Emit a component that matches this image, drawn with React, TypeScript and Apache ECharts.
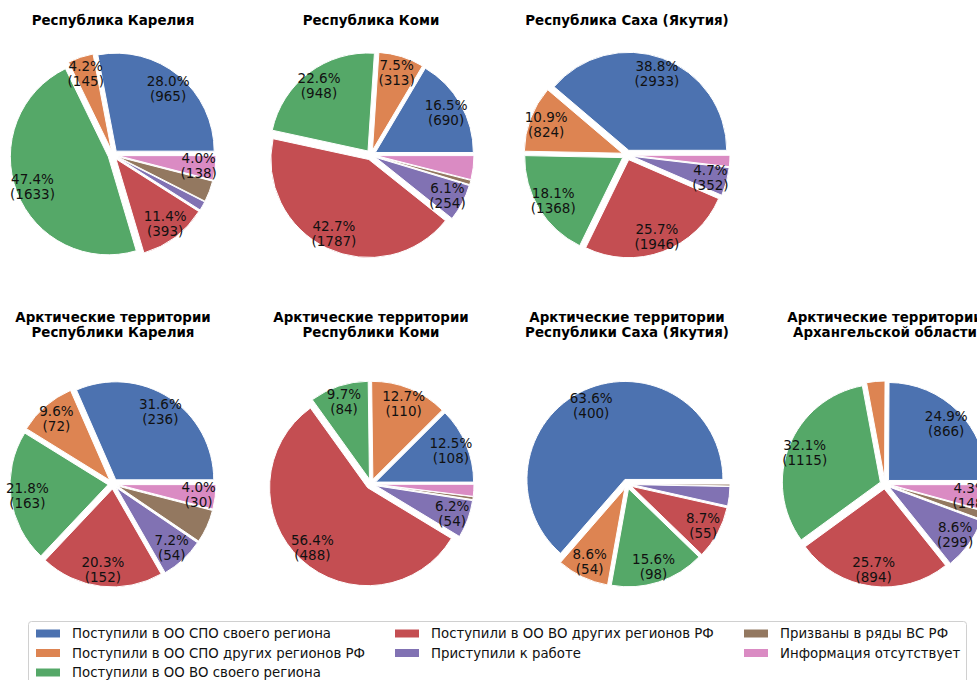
import React, { useEffect, useRef } from "react";
import * as echarts from "echarts";

const categories = [
  "Поступили в ОО СПО своего региона",
  "Поступили в ОО СПО других регионов РФ",
  "Поступили в ОО ВО своего региона",
  "Поступили в ОО ВО других регионов РФ",
  "Приступили к работе",
  "Призваны в ряды ВС РФ",
  "Информация отсутствует",
];

const colors = ["#4C72B0", "#DD8452", "#55A868", "#C44E52", "#8172B3", "#937860", "#DA8BC3"];

const titles = [
  "Республика Карелия",
  "Республика Коми",
  "Республика Саха (Якутия)",
  "Арктические территории\nРеспублики Карелия",
  "Арктические территории\nРеспублики Коми",
  "Арктические территории\nРеспублики Саха (Якутия)",
  "Арктические территории\nАрхангельской области",
];

const karelia = [965, 145, 1633, 393, 52, 120, 138];
const komi = [690, 313, 948, 1787, 254, 30, 165];
const yakutia = [2933, 824, 1368, 1946, 352, 0, 140];
const arcticKarelia = [236, 72, 163, 152, 54, 41, 30];
const arcticKomi = [108, 110, 84, 488, 54, 4, 17];
const arcticYakutia = [400, 54, 98, 55, 20, 2, 0];
const arkhangelsk = [866, 105, 1115, 894, 299, 48, 148];

const pieValues = [karelia, komi, yakutia, arcticKarelia, arcticKomi, arcticYakutia, arkhangelsk];

// legend layout: column, row for each category
const legendColumn = [0, 0, 0, 1, 1, 2, 2];
const legendRow = [0, 1, 2, 0, 1, 0, 1];

export default function App() {
  const ref = useRef<HTMLDivElement>(null);
  useEffect(() => {
    document.body.style.margin = "0";
    const chart = echarts.init(ref.current!, null, { renderer: "svg" });
    const R = 98;
    const colX = [113, 371, 627, 885];
    const rowY = [155, 484];
    const positions = [
      [colX[0], rowY[0]],
      [colX[1], rowY[0]],
      [colX[2], rowY[0]],
      [colX[0], rowY[1]],
      [colX[1], rowY[1]],
      [colX[2], rowY[1]],
      [colX[3], rowY[1]],
    ];
    const font = "DejaVu Sans";
    const visible: any[] = [];
    const labelSeries: any[] = [];
    pieValues.forEach((vals, k) => {
      const total = vals.reduce((a, b) => a + b, 0);
      const data = vals
        .map((v, i) => ({ v, i }))
        .filter((d) => d.v > 0)
        .map((d) => ({
          name: categories[d.i],
          value: d.v,
          selected: true,
          itemStyle: { color: colors[d.i] },
          select: { itemStyle: { color: colors[d.i] } },
        }));
      const common = {
        type: "pie",
        center: positions[k],
        startAngle: 0,
        clockwise: false,
        selectedMode: "multiple",
        selectedOffset: 5,
        avoidLabelOverlap: false,
        minAngle: 0,
        emphasis: { disabled: true },
        labelLine: { show: false },
      };
      visible.push({
        ...common,
        radius: [0, R],
        data,
        itemStyle: { borderColor: "#ffffff", borderWidth: 1 },
        label: { show: false },
      });
      labelSeries.push({
        ...common,
        radius: [R * 0.6, R],
        silent: true,
        legendHoverLink: false,
        data: data.map((d) => ({
          ...d,
          itemStyle: { color: "rgba(0,0,0,0)" },
          select: { itemStyle: { color: "rgba(0,0,0,0)" } },
        })),
        itemStyle: { borderWidth: 0, color: "rgba(0,0,0,0)" },
        label: {
          show: true,
          position: "inside",
          fontFamily: font,
          fontSize: 13.5,
          lineHeight: 15,
          color: "#111",
          formatter: (p: any) => {
            const pct = (p.value / total) * 100;
            return pct >= 4 ? `${pct.toFixed(1)}%\n(${p.value})` : "";
          },
        },
      });
    });

    const legendLeft = [34, 393, 742];
    const legendCenterY = [635, 654.5, 674];
    const legends = categories.map((name, i) => ({
      orient: "horizontal",
      left: legendLeft[legendColumn[i]],
      top: legendCenterY[legendRow[i]] - 8,
      padding: 0,
      itemWidth: 26,
      itemHeight: 10,
      icon: "rect",
      selectedMode: false,
      data: [name],
      textStyle: { fontFamily: font, fontSize: 13.3, color: "#111", padding: [0, 0, 0, 6] },
    }));

    chart.setOption({
      animation: false,
      backgroundColor: "#ffffff",
      textStyle: { fontFamily: font },
      title: titles.map((t, k) => ({
        text: t,
        left: positions[k][0],
        top: k < 3 ? 13 : 310,
        padding: 0,
        textAlign: "center",
        textStyle: { fontFamily: font, fontSize: 13.4, fontWeight: "bold", color: "#000", lineHeight: 15 },
      })),
      legend: legends,
      graphic: [
        {
          type: "rect",
          shape: { x: 28.5, y: 621.5, width: 938, height: 80, r: 3 },
          style: { fill: "rgba(255,255,255,0.8)", stroke: "#d0d0d0", lineWidth: 1 },
          z: -1,
        },
      ],
      series: [...visible, ...labelSeries],
    });
    return () => chart.dispose();
  }, []);
  return <div ref={ref} style={{ width: 977, height: 680 }} />;
}
